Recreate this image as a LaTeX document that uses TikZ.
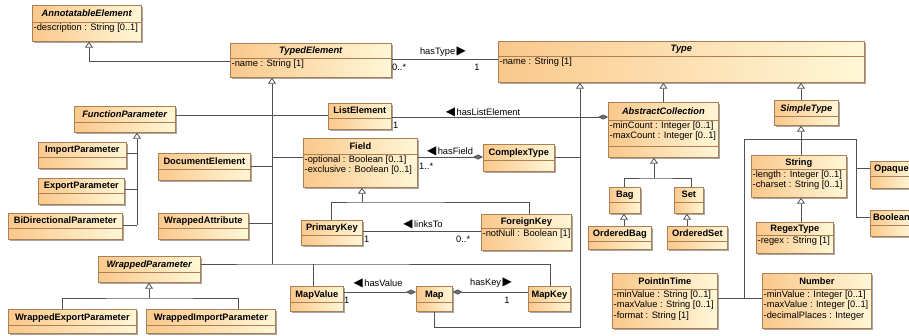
\documentclass[tikz,border=0pt]{standalone}
\usepackage{fontspec}
\setmainfont{Liberation Sans}
\newfontfamily\symb{DejaVu Sans}
\usetikzlibrary{arrows.meta,shadows}

\definecolor{orL}{RGB}{250,200,140}
\definecolor{orR}{RGB}{255,247,215}
\definecolor{rahmen}{RGB}{172,128,84}
\definecolor{strich}{RGB}{80,80,80}

\newcommand\grund{\fontsize{9.3}{10.5}\selectfont}
\newcommand\links{{\symb\fontsize{12}{12}\selectfont\char"25C0}\,}
\newcommand\rechts{\,{\symb\fontsize{12}{12}\selectfont\char"25B6}}

\tikzset{
  klasse/.style={rectangle, draw=rahmen, line width=0.7pt, left color=orL, right color=orR,
    inner sep=0pt, anchor=north west,
    drop shadow={shadow xshift=2pt, shadow yshift=-2pt, fill=black!35, opacity=1}},
  trenn/.style={draw=rahmen, line width=0.7pt},
  titel/.style={font=\grund\bfseries, inner sep=0pt, text height=6.7pt, text depth=0pt},
  attr/.style={font=\grund, anchor=north west, align=left, inner xsep=1.5pt, inner ysep=1.5pt},
  lbl/.style={font=\grund, inner sep=0pt},
  linie/.style={draw=strich, line width=0.8pt},
  gen/.style={linie, -{Triangle[length=6pt, width=8pt, fill=white]}},
  komp/.style={linie, -{Diamond[length=10pt, width=5pt, fill=strich!80]}},
  kompa/.style={linie, {Diamond[length=10pt, width=5pt, fill=strich!80]}-}
}

%Klasse: Name, x, y, Breite, Hoehe, Trennlinie, Titel, Attribute
\newcommand\klasse[8]{%
  \node[klasse, minimum width=#4pt, minimum height=#5pt] (#1) at (#2,#3) {};
  \draw[trenn] ([yshift=-#6pt]#1.north west) -- ([yshift=-#6pt]#1.north east);
  \node[titel] (#1-t) at ([yshift=-#6pt/2]#1.north) {#7};
  \node[attr] (#1-a) at ([yshift=-#6pt]#1.north west) {#8};
}

\begin{document}
\begin{tikzpicture}[x=1pt, y=-1pt]
  \useasboundingbox (0,0) rectangle (909,335);
  \clip (0,0) rectangle (909,335);
  %Klassen links
  \klasse{ann}{32}{5}{109}{36}{17}{\textit{AnnotatableElement}}{-description : String [0..1]}
  \klasse{typed}{230}{43}{161}{34}{15}{\textit{TypedElement}}{-name : String [1]}
  \klasse{funcpar}{74}{106}{101}{26}{16}{\textit{FunctionParameter}}{}
  \klasse{imppar}{38}{142}{88}{26}{15}{ImportParameter}{}
  \klasse{exppar}{38}{178}{86}{26}{15}{ExportParameter}{}
  \klasse{bipar}{8}{213}{114}{26}{15}{BiDirectionalParameter}{}
  \klasse{docel}{158}{153}{92}{27}{16}{DocumentElement}{}
  \klasse{wrapattr}{158}{213}{90}{26}{15}{WrappedAttribute}{}
  \klasse{wrappar}{98}{256}{102}{26}{16}{\textit{WrappedParameter}}{}
  \klasse{wrapexp}{8}{309}{128}{24}{16}{WrappedExportParameter}{}
  \klasse{wrapimp}{146}{309}{129}{24}{16}{WrappedImportParameter}{}
  %Klassen Mitte
  \klasse{listel}{328}{103}{63}{26}{15}{ListElement}{}
  \klasse{field}{303}{138}{114}{49}{16}{Field}{-optional : Boolean [0..1]\\-exclusive : Boolean [0..1]}
  \klasse{complex}{483}{144}{71}{27}{16}{ComplexType}{}
  \klasse{pkey}{301}{220}{61}{25}{15}{PrimaryKey}{}
  \klasse{fkey}{481}{214}{90}{36}{14}{ForeignKey}{-notNull : Boolean [1]}
  \klasse{mapval}{290}{286}{53}{25}{16}{MapValue}{}
  \klasse{map}{416}{286}{36}{25}{16}{Map}{}
  \klasse{mapkey}{528}{286}{42}{25}{16}{MapKey}{}
  %Klassen rechts
  \klasse{type}{498}{41}{366}{41}{15}{\textit{Type}}{-name : String [1]}
  \klasse{abscoll}{608}{102}{110}{55}{18}{\textit{AbstractCollection}}{-minCount : Integer [0..1]\\-maxCount : Integer [0..1]}
    \draw[trenn] ([yshift=-44pt]abscoll.north west) -- ([yshift=-44pt]abscoll.north east);
  \klasse{bag}{609}{187}{31}{26}{15}{Bag}{}
  \klasse{set}{674}{187}{29}{26}{15}{Set}{}
  \klasse{obag}{588}{226}{63}{23}{15}{OrderedBag}{}
  \klasse{oset}{667}{226}{60}{23}{15}{OrderedSet}{}
  \klasse{simple}{774}{100}{64}{25}{16}{\textit{SimpleType}}{}
  \klasse{string}{751}{155}{95}{42}{14}{String}{-length : Integer [0..1]\\-charset : String [0..1]}
  \klasse{regex}{756}{222}{77}{31}{13}{RegexType}{-regex : String [1]}
  \klasse{opaque}{870}{161}{42}{27}{15}{Opaque}{}
  \klasse{boolean}{870}{210}{42}{26}{15}{Boolean}{}
  \klasse{pit}{612}{273}{105}{55}{16}{PointInTime}{-minValue : String [0..1]\\-maxValue : String [0..1]\\-format : String [1]}
  \klasse{number}{762}{273}{109}{55}{16}{Number}{-minValue : Integer [0..1]\\-maxValue : Integer [0..1]\\-decimalPlaces : Integer}

  %Vererbung AnnotatableElement
  \draw[gen] (typed.west |- 0,61) -| (89,0 |- ann.south);
  %Vererbung TypedElement
  \coordinate (teB) at (272,264);
  \draw[gen] (teB) -- (teB |- typed.south);
    \draw[linie] (funcpar.east |- 0,115) -- (teB |- 0,115);
    \draw[linie] (listel.west |- 0,115) -- (teB |- 0,115);
    \draw[linie] (docel.east |- 0,166) -- (teB |- 0,166);
    \draw[linie] (field.west |- 0,157) -- (teB |- 0,157);
    \draw[linie] (wrapattr.east |- 0,223) -- (teB |- 0,223);
    \draw[linie] (wrappar.east |- teB) -- (teB) -| (550,0 |- mapkey.north);
    \draw[linie] (313,0 |- mapval.north) -- (313,0 |- teB);
  %Vererbung FunctionParameter
  \coordinate (fpB) at (137,225);
  \draw[gen] (fpB) -- (fpB |- funcpar.south);
    \draw[linie] (imppar.east |- 0,153) -- (fpB |- 0,153);
    \draw[linie] (exppar.east |- 0,189) -- (fpB |- 0,189);
    \draw[linie] (bipar.east |- fpB) -- (fpB);
  %Vererbung WrappedParameter
  \coordinate (wpB) at (149,298);
  \draw[gen] (wpB) -- (wpB |- wrappar.south);
    \draw[linie] (62,0 |- wrapexp.north) |- (wpB) -| (238,0 |- wrapimp.north);
  %Vererbung Field
  \coordinate (fdB) at (362,202);
  \draw[gen] (fdB) -- (fdB |- field.south);
    \draw[linie] (331,0 |- pkey.north) |- (fdB) -| (529,0 |- fkey.north);
  %Vererbung Type
  \coordinate (tyB) at (580,327);
  \draw[gen] (map.south) |- (tyB) -- (tyB |- type.south);
    \draw[linie] (complex.east) -- (complex.east -| tyB);
  \draw[gen] (abscoll.north) -- (abscoll.north |- type.south);
  \draw[gen] (801,0 |- simple.north) -- (801,0 |- type.south);
  %Vererbung AbstractCollection
  \coordinate (acB) at (654,178);
  \draw[gen] (acB) -- (acB |- abscoll.south);
    \draw[linie] (624,0 |- bag.north) |- (acB) -| (691,0 |- set.north);
  \draw[gen] (624,0 |- obag.north) -- (624,0 |- bag.south);
  \draw[gen] (687,0 |- oset.north) -- (687,0 |- set.south);
  %Vererbung SimpleType
  \coordinate (stL) at (744,139);
  \coordinate (stR) at (856,139);
  \draw[gen] (801,0 |- string.north) -- (801,0 |- simple.south);
    \draw[linie] (stL) -- (stR);
    \draw[linie] (stL) -- (stL |- 0,298);
    \draw[linie] (pit.east |- 0,298) -- (number.west |- 0,298);
    \draw[linie] (stR) |- (opaque.west |- 0,168);
    \draw[linie] (stR) |- (boolean.west |- 0,217);
  \draw[gen] (801,0 |- regex.north) -- (801,0 |- string.south);

  %Assoziationen
  \draw[linie] (typed.east |- 0,59) -- (type.west |- 0,59);
    \node[lbl] (hasTypeL) at (443,52) {hasType\rechts};
    \node[lbl, anchor=west] (hasTypeA) at (392,67) {0..*};
    \node[lbl] (hasTypeB) at (477,67) {1};
  \draw[komp] (listel.east |- 0,117) -- (abscoll.west |- 0,117);
    \node[lbl] (hasListL) at (483,112) {\links hasListElement};
    \node[lbl, anchor=west] (hasListA) at (393,125) {1};
  \draw[komp] (field.east |- 0,157) -- (complex.west |- 0,157);
    \node[lbl] (hasFieldL) at (450,151) {\links hasField};
    \node[lbl, anchor=west] (hasFieldA) at (419,166) {1..*};
  \draw[linie] (pkey.east |- 0,231) -- (fkey.west |- 0,231);
    \node[lbl] (linksToL) at (423,224) {\links linksTo};
    \node[lbl, anchor=west] (linksToA) at (364,239) {1};
    \node[lbl, anchor=west] (linksToB) at (456,239) {0..*};
  \draw[komp] (mapval.east |- 0,292) -- (map.west |- 0,292);
    \node[lbl] (hasValueL) at (378,283) {\links hasValue};
    \node[lbl, anchor=west] (hasValueA) at (344,300) {1};
  \draw[kompa] (map.east |- 0,292) -- (mapkey.west |- 0,292);
    \node[lbl] (hasKeyL) at (491,283) {hasKey\rechts};
    \node[lbl] (hasKeyA) at (507,300) {1};
\end{tikzpicture}
\end{document}
